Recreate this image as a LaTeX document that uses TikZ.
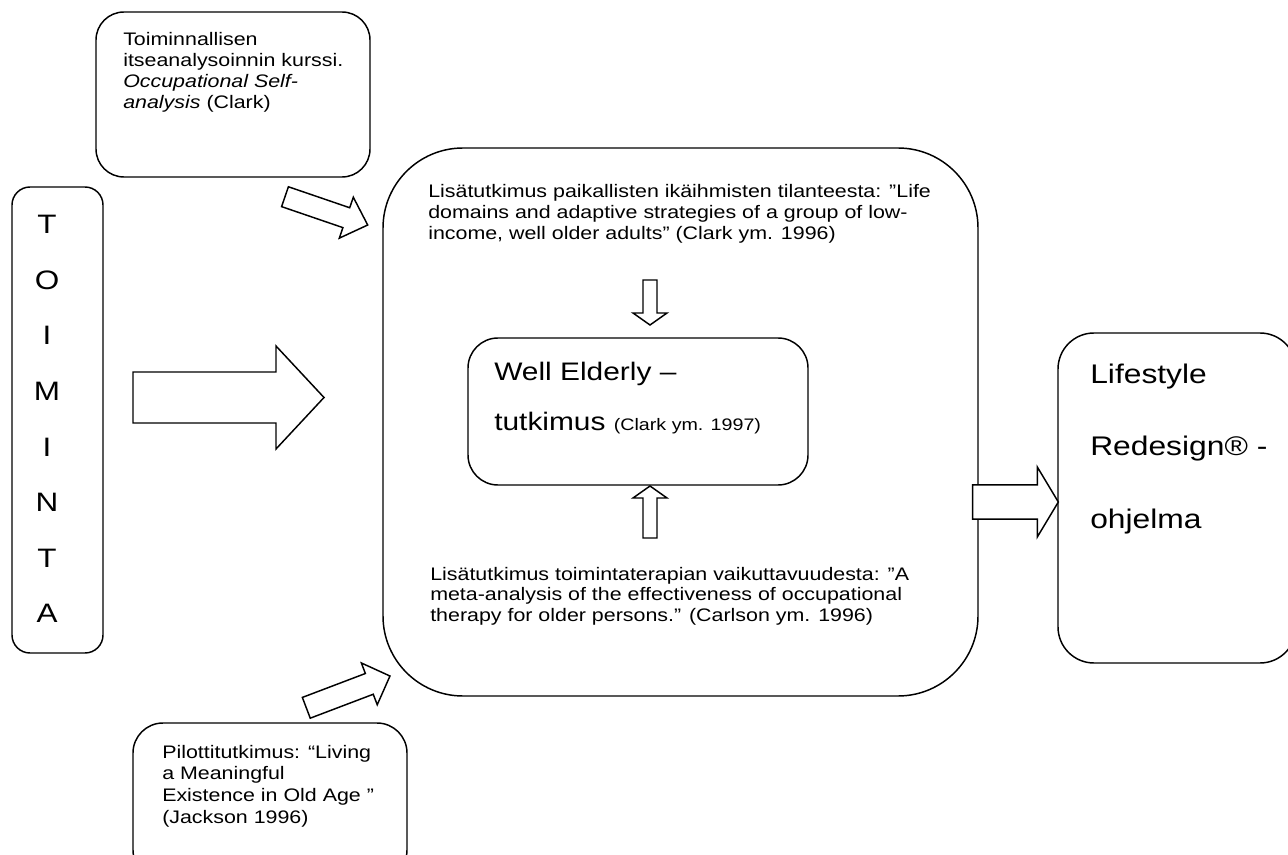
\documentclass[tikz,border=0pt]{standalone}
\usepackage{graphicx}
\usepackage{fontspec}
\setmainfont{Liberation Sans}
\newcommand\blockarrow[7]{%
  \draw[barrow,shift={(#1,#2)},rotate=#3]
    (0,-#5/2) -- ({#4-#7},-#5/2) -- ({#4-#7},-#6/2) -- (#4,0) --
    ({#4-#7},#6/2) -- ({#4-#7},#5/2) -- (0,#5/2) -- cycle;}
\newcommand\sx[1]{\scalebox{1.18}[1]{#1}}
\newcommand\tblock[3][15.6pt]{\sx{\parbox[t]{#2}{\raggedright\baselineskip=#1\relax #3}}}
\begin{document}
\begin{tikzpicture}[x=0.75pt,y=-0.75pt,
  box/.style={draw=black, line width=1.1pt, rounded corners=#1},
  barrow/.style={draw=black, fill=white, line width=1.1pt, line join=miter},
  txt/.style={inner sep=0pt, anchor=base west, font=\fontsize{13.6}{15.6}\selectfont},
  letter/.style={inner sep=0pt, anchor=base, font=\fontsize{20}{23}\selectfont},
  big/.style={inner sep=0pt, anchor=base west, font=\fontsize{19}{23}\selectfont},
  bigger/.style={inner sep=0pt, anchor=base west, font=\fontsize{20.2}{24}\selectfont}]
\useasboundingbox (0,0) rectangle (1288,855);

% boxes
\draw[box=21pt] (96,12) rectangle (370,177);
\draw[box=13.5pt] (12,187) rectangle (103,653);
\draw[box=60pt] (383,148) rectangle (978,696);
\draw[box=22.5pt] (468,338) rectangle (808,485);
\draw[box=27pt] (1058,333) rectangle (1296,663);
\draw[box=22.5pt] (133,723) rectangle (407,880);

% block arrows
\blockarrow{133}{397.5}{0}{191}{51}{103}{48}
\blockarrow{285}{196.7}{-18.9}{87.4}{21}{43.3}{22.6}
\blockarrow{306.3}{707.8}{20.8}{89.5}{22.2}{44.7}{22.1}
\blockarrow{650}{280}{-90}{45}{14}{34}{12}
\blockarrow{650}{538}{90}{52}{14}{34}{12}
\blockarrow{972.7}{502}{0}{85.6}{34.3}{70}{21}

% texts
\node[txt] (selfanal) at (123,46) {\tblock{200pt}{Toiminnallisen\\
itseanalysoinnin kurssi.\\
\textit{Occupational Self-}\\
\textit{analysis} (Clark)}};

\foreach \l [count=\i] in {T,O,I,M,I,N,T,A}
  \node[letter] (L\i) at (47,{234+55.5*(\i-1)}) {\sx{\l}};

\node[txt] (para1) at (428,198) {\tblock{360pt}{Lisätutkimus paikallisten ikäihmisten tilanteesta: ”Life\\
domains and adaptive strategies of a group of low-\\
income, well older adults” (Clark ym. 1996)}};

\node[txt] (para2) at (430,580) {\tblock{360pt}{Lisätutkimus toimintaterapian vaikuttavuudesta: ”A\\
meta-analysis of the effectiveness of occupational\\
therapy for older persons.” (Carlson ym. 1996)}};

\node[big] (well1) at (494,380) {\sx{Well Elderly –}};
\node[big] (well2) at (494,430) {\sx{tutkimus {\fontsize{12.5}{15}\selectfont (Clark ym. 1997)}}};

\node[bigger] (life1) at (1090,383) {\sx{Lifestyle}};
\node[bigger] (life2) at (1090,455) {\sx{Redesign® -}};
\node[bigger] (life3) at (1090,528) {\sx{ohjelma}};

\node[txt] (pilot) at (162,758) {\tblock[16.3pt]{200pt}{Pilottitutkimus: “Living\\
a Meaningful\\
Existence in Old Age ”\\
(Jackson 1996)}};
\end{tikzpicture}
\end{document}
